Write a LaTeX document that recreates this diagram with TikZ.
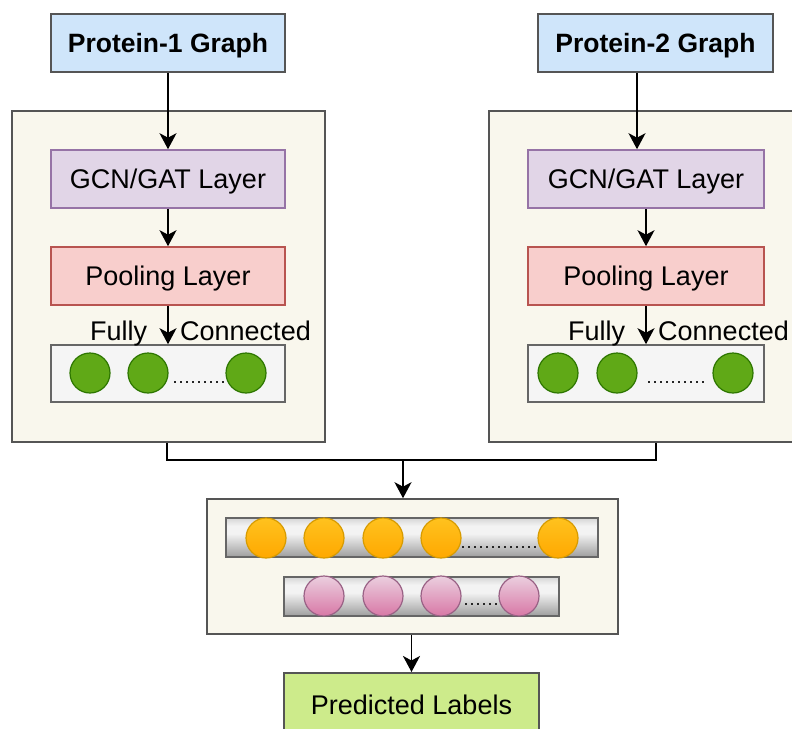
\documentclass[tikz,border=0pt]{standalone}
\usepackage{fontspec}
\setmainfont{Liberation Sans}
\usetikzlibrary{arrows.meta,calc}
\definecolor{bluef}{HTML}{CFE5FA}
\definecolor{purpf}{HTML}{E1D5E7}
\definecolor{purps}{HTML}{9673A6}
\definecolor{redf}{HTML}{F8CECC}
\definecolor{reds}{HTML}{B85450}
\definecolor{contf}{HTML}{F9F7ED}
\definecolor{darks}{HTML}{555555}
\definecolor{fcf}{HTML}{F5F5F5}
\definecolor{fcs}{HTML}{666666}
\definecolor{greenf}{HTML}{60A917}
\definecolor{greens}{HTML}{2D7600}
\definecolor{orangeA}{HTML}{FFC21E}
\definecolor{orangeB}{HTML}{FFA800}
\definecolor{oranges}{HTML}{D79B00}
\definecolor{pinkA}{HTML}{EBCFDF}
\definecolor{pinkB}{HTML}{D878A6}
\definecolor{pinks}{HTML}{996185}
\definecolor{predf}{HTML}{CDEB8B}
\definecolor{barT}{HTML}{D6D6D6}
\definecolor{barL}{HTML}{F3F3F3}
\definecolor{barB}{HTML}{9E9E9E}
\pgfdeclareverticalshading{barshade}{100bp}{color(0bp)=(barB); color(25bp)=(barB); color(55bp)=(barL); color(65bp)=(barL); color(75bp)=(barT); color(100bp)=(barT)}
\begin{document}
\begin{tikzpicture}[x=1pt,y=-1pt,
  font=\fontsize{27}{30}\selectfont,
  box/.style={draw, line width=1.6pt, inner sep=0pt, text height=19pt, text depth=0pt, minimum width=234pt, minimum height=58pt},
  inbox/.style={box, draw=darks, fill=bluef, font=\fontsize{26.5}{30}\selectfont\bfseries},
  gcnbox/.style={box, draw=purps, fill=purpf},
  poolbox/.style={box, draw=reds, fill=redf},
  fcbox/.style={box, draw=fcs, fill=fcf, minimum height=57pt},
  contbox/.style={draw=darks, fill=contf, line width=1.6pt, inner sep=0pt, minimum width=313pt, minimum height=331pt},
  gcirc/.style={circle, draw=greens, fill=greenf, line width=1.2pt, minimum size=40pt, inner sep=0pt},
  ocirc/.style={circle, draw=oranges, top color=orangeA, bottom color=orangeB, line width=1.2pt, minimum size=40pt, inner sep=0pt},
  pcirc/.style={circle, draw=pinks, top color=pinkA, bottom color=pinkB, line width=1.2pt, minimum size=40pt, inner sep=0pt},
  barbox/.style={draw=fcs, line width=1.6pt, shading=barshade, inner sep=0pt, minimum height=39pt},
  dots/.style={line width=1.8pt, dash pattern=on 2pt off 4pt, black!85},
  conn/.style={line width=1.8pt, black},
  arr/.style={conn, -{Stealth[length=16pt,width=17pt,inset=4.5pt]}},
  lbl/.style={inner sep=0pt, anchor=base west}
]
\useasboundingbox (0,0) rectangle (792,728);
\clip (0,0) rectangle (792,728);

% left branch
\node[contbox] (c1) at (168.5,276.5) {};
\node[inbox] (p1) at (168,43) {Protein-1 Graph};
\node[gcnbox] (g1) at (168,179) {GCN/GAT Layer};
\node[poolbox] (pl1) at (168,276) {Pooling Layer};
\node[fcbox] (fc1) at (168,373.5) {};
\node[gcirc] (a1) at (90,373) {};
\node[gcirc] (a2) at (148,373) {};
\node[gcirc] (a3) at (246,373) {};
\coordinate (d1s) at (174,382);
\coordinate (d1e) at (224,382);
\draw[dots] (d1s) -- (d1e);
\node[lbl] (fu1) at (90,340) {Fully};
\node[lbl] (co1) at (180,340) {Connected};

% right branch
\node[contbox] (c2) at (645.5,276.5) {};
\node[inbox, minimum width=235pt] (p2) at (655.5,43) {Protein-2 Graph};
\node[gcnbox, minimum width=236pt] (g2) at (646,179) {GCN/GAT Layer};
\node[poolbox, minimum width=236pt] (pl2) at (646,276) {Pooling Layer};
\node[fcbox, minimum width=236pt] (fc2) at (646,373.5) {};
\node[gcirc] (b1) at (558,373) {};
\node[gcirc] (b2) at (617,373) {};
\node[gcirc] (b3) at (733,373) {};
\coordinate (d2s) at (648,382);
\coordinate (d2e) at (706,382);
\draw[dots] (d2s) -- (d2e);
\node[lbl] (fu2) at (568,340) {Fully};
\node[lbl] (co2) at (658,340) {Connected};

% arrows in branches
\draw[arr] (p1.south) -- (g1.north);
\draw[arr] (g1.south) -- (pl1.north);
\draw[arr] (pl1.south) -- (fc1.north);
\coordinate (x2) at (637,0);
\draw[arr] (p2.south -| x2) -- (g2.north -| x2);
\draw[arr] (g2.south) -- (pl2.north);
\draw[arr] (pl2.south) -- (fc2.north);

% bottom container
\node[draw=darks, fill=contf, line width=1.6pt, inner sep=0pt, minimum width=411pt, minimum height=135pt] (bc) at (412.5,566.5) {};
\node[barbox, minimum width=372pt] (bar1) at (412,537.5) {};
\node[barbox, minimum width=275pt] (bar2) at (421.5,596.5) {};
\coordinate (d3s) at (462,547);
\coordinate (d3e) at (541,547);
\draw[dots] (d3s) -- (d3e);
\coordinate (d4s) at (465,604);
\coordinate (d4e) at (499,604);
\draw[dots] (d4s) -- (d4e);
\node[ocirc] (o1) at (266,538) {};
\node[ocirc] (o2) at (324,538) {};
\node[ocirc] (o3) at (383,538) {};
\node[ocirc] (o4) at (441,538) {};
\node[ocirc] (o5) at (558,538) {};
\node[pcirc] (k1) at (324,596) {};
\node[pcirc] (k2) at (383,596) {};
\node[pcirc] (k3) at (441,596) {};
\node[pcirc] (k4) at (519,596) {};

% merge connector
\coordinate (jl) at (167,460);
\coordinate (jr) at (656,460);
\coordinate (jm) at (403,460);
\draw[conn] (c1.south -| jl) -- (jl) -- (jr) -- (c2.south -| jr);
\draw[arr] (jm) -- (bc.north -| jm);

% prediction
\node[draw=darks, fill=predf, line width=1.6pt, inner sep=0pt, text height=19pt, text depth=0pt, minimum width=255pt, minimum height=64pt, anchor=north] (pred) at (411.5,672) {Predicted Labels};
\draw[arr] (bc.south -| pred.north) -- (pred.north);
\end{tikzpicture}
\end{document}
